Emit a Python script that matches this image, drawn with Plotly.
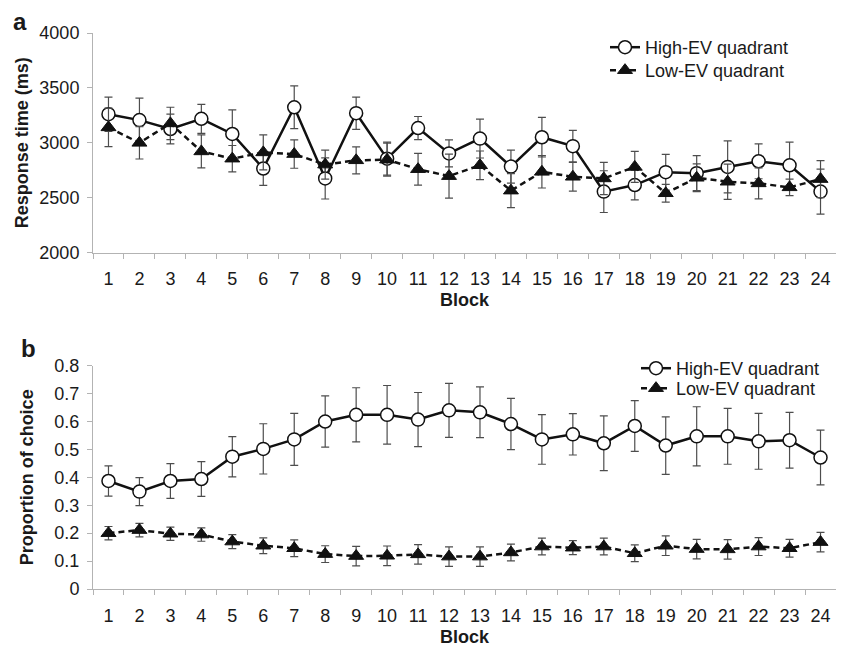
import plotly.graph_objects as go

blocks = [str(i) for i in range(1, 25)]

rt_high = [3261, 3207, 3126, 3219, 3081, 2766, 3324, 2676, 3270, 2856, 3135, 2904,
           3039, 2784, 3051, 2970, 2556, 2616, 2733, 2724, 2781, 2832, 2796, 2556]
rt_high_err = [156, 200, 135, 132, 220, 153, 195, 187, 147, 150, 105, 123,
               177, 150, 180, 144, 190, 135, 162, 159, 237, 159, 210, 204]
rt_low = [3141, 3000, 3177, 2922, 2856, 2913, 2898, 2802, 2841, 2847, 2760, 2697,
          2796, 2565, 2736, 2691, 2676, 2781, 2541, 2682, 2646, 2631, 2595, 2670]
rt_low_err = [175, 147, 147, 150, 120, 159, 129, 132, 123, 150, 144, 200,
              130, 154, 147, 130, 147, 141, 81, 126, 160, 141, 75, 168]

prop_high = [0.387, 0.349, 0.387, 0.394, 0.474, 0.502, 0.536, 0.600, 0.624, 0.624, 0.607, 0.640,
             0.633, 0.591, 0.536, 0.554, 0.522, 0.584, 0.514, 0.547, 0.547, 0.529, 0.533, 0.471]
prop_high_err = [0.054, 0.050, 0.062, 0.062, 0.072, 0.090, 0.093, 0.092, 0.097, 0.105, 0.097, 0.097,
                 0.091, 0.092, 0.089, 0.074, 0.098, 0.091, 0.103, 0.106, 0.100, 0.100, 0.100, 0.098]
prop_low = [0.200, 0.211, 0.198, 0.195, 0.170, 0.155, 0.146, 0.125, 0.118, 0.119, 0.124, 0.116,
            0.116, 0.131, 0.152, 0.148, 0.152, 0.128, 0.155, 0.143, 0.142, 0.152, 0.146, 0.168]
prop_low_err = [0.024, 0.024, 0.024, 0.024, 0.025, 0.028, 0.030, 0.030, 0.035, 0.035, 0.035, 0.035,
                0.035, 0.030, 0.030, 0.025, 0.030, 0.030, 0.035, 0.035, 0.035, 0.032, 0.032, 0.035]

FONT = "Liberation Sans, Arial, Helvetica, sans-serif"
TXT = "#1a1a1a"
AX = "#b3b3b3"
ERR = "#4d4d4d"

# page body has an 8px margin: figure is sized to fit the window exactly
OFF = 8
W, H = 844 - OFF, 649 - OFF
ML, MR, MT, MB = 93 - OFF, 8, 33 - OFF, 60
PH = H - MT - MB
PW = W - ML - MR


def py(p):  # window pixel y -> paper
    return (H - MB - (p - OFF)) / PH


def px(p):  # window pixel x -> paper
    return (p - OFF - ML) / PW


def err(a):
    return dict(type="data", array=a, visible=True, color=ERR, thickness=1.2, width=4)


high_marker = dict(symbol="circle", size=13, color="white", line=dict(color="#111", width=1.5))
low_marker = dict(symbol="triangle-up", size=13, color="#111", line=dict(color="#111", width=1))
solid = dict(color="#111", width=2.5)
dashed = dict(color="#111", width=2.5, dash="6px,4px")

fig = go.Figure()
fig.add_trace(go.Scatter(x=blocks, y=rt_high, error_y=err(rt_high_err), mode="lines+markers",
                         name="High-EV quadrant", line=solid, marker=high_marker,
                         xaxis="x", yaxis="y", legend="legend"))
fig.add_trace(go.Scatter(x=blocks, y=rt_low, error_y=err(rt_low_err), mode="lines+markers",
                         name="Low-EV quadrant", line=dashed, marker=low_marker,
                         xaxis="x", yaxis="y", legend="legend2"))
fig.add_trace(go.Scatter(x=blocks, y=prop_high, error_y=err(prop_high_err), mode="lines+markers",
                         name="High-EV quadrant", line=solid, marker=high_marker,
                         xaxis="x2", yaxis="y2", legend="legend3"))
fig.add_trace(go.Scatter(x=blocks, y=prop_low, error_y=err(prop_low_err), mode="lines+markers",
                         name="Low-EV quadrant", line=dashed, marker=low_marker,
                         xaxis="x2", yaxis="y2", legend="legend4"))

xcommon = dict(type="category", tickson="boundaries", ticks="outside", ticklen=5, tickcolor=AX,
               showline=True, linecolor=AX, linewidth=1, showgrid=False, zeroline=False,
               tickfont=dict(size=18, color=TXT, family=FONT), ticklabelstandoff=10,
               title=dict(text="<b>Block</b>", font=dict(size=18, color=TXT, family=FONT), standoff=5),
               range=[-0.5, 23.5], fixedrange=True, automargin=False)
ycommon = dict(ticks="outside", ticklen=5, tickcolor=AX, showline=True, linecolor=AX, linewidth=1,
               showgrid=False, zeroline=False, tickfont=dict(size=18, color=TXT, family=FONT),
               ticklabelstandoff=4, automargin=False, fixedrange=True)


def leg(x, y):
    return dict(x=px(x), y=py(y), xanchor="left", yanchor="top", bgcolor="rgba(0,0,0,0)",
                font=dict(size=18, color=TXT, family=FONT), itemwidth=30)


fig.update_layout(
    width=W, height=H, margin=dict(l=ML, r=MR, t=MT, b=MB, autoexpand=False),
    paper_bgcolor="white", plot_bgcolor="white",
    font=dict(family=FONT, color=TXT, size=18),
    xaxis=dict(domain=[0, 1], anchor="y", **xcommon),
    yaxis=dict(domain=[py(252.7), 1], anchor="x", range=[2000, 4000], tickvals=[2000, 2500, 3000, 3500, 4000],
               title=dict(text="<b>Response time (ms)</b>", font=dict(size=18, color=TXT, family=FONT), standoff=6),
               **ycommon),
    xaxis2=dict(domain=[0, 1], anchor="y2", **xcommon),
    yaxis2=dict(domain=[0, py(365.7)], anchor="x2", range=[0, 0.8], tickvals=[0, 0.1, 0.2, 0.3, 0.4, 0.5, 0.6, 0.7, 0.8],
                ticktext=["0", "0.1", "0.2", "0.3", "0.4", "0.5", "0.6", "0.7", "0.8"],
                title=dict(text="<b>Proportion of choice</b>", font=dict(size=18, color=TXT, family=FONT), standoff=16),
                **ycommon),
    legend=leg(605, 29),
    legend2=leg(605, 52),
    legend3=leg(636, 350),
    legend4=leg(636, 370),
    showlegend=True,
    annotations=[
        dict(text="<b>a</b>", x=px(11), y=py(37), xref="paper", yref="paper", xanchor="left", yanchor="bottom",
             showarrow=False, font=dict(size=24, color=TXT, family=FONT)),
        dict(text="<b>b</b>", x=px(19), y=py(364), xref="paper", yref="paper", xanchor="left", yanchor="bottom",
             showarrow=False, font=dict(size=24, color=TXT, family=FONT)),
    ],
)

fig.write_html("out.html")
